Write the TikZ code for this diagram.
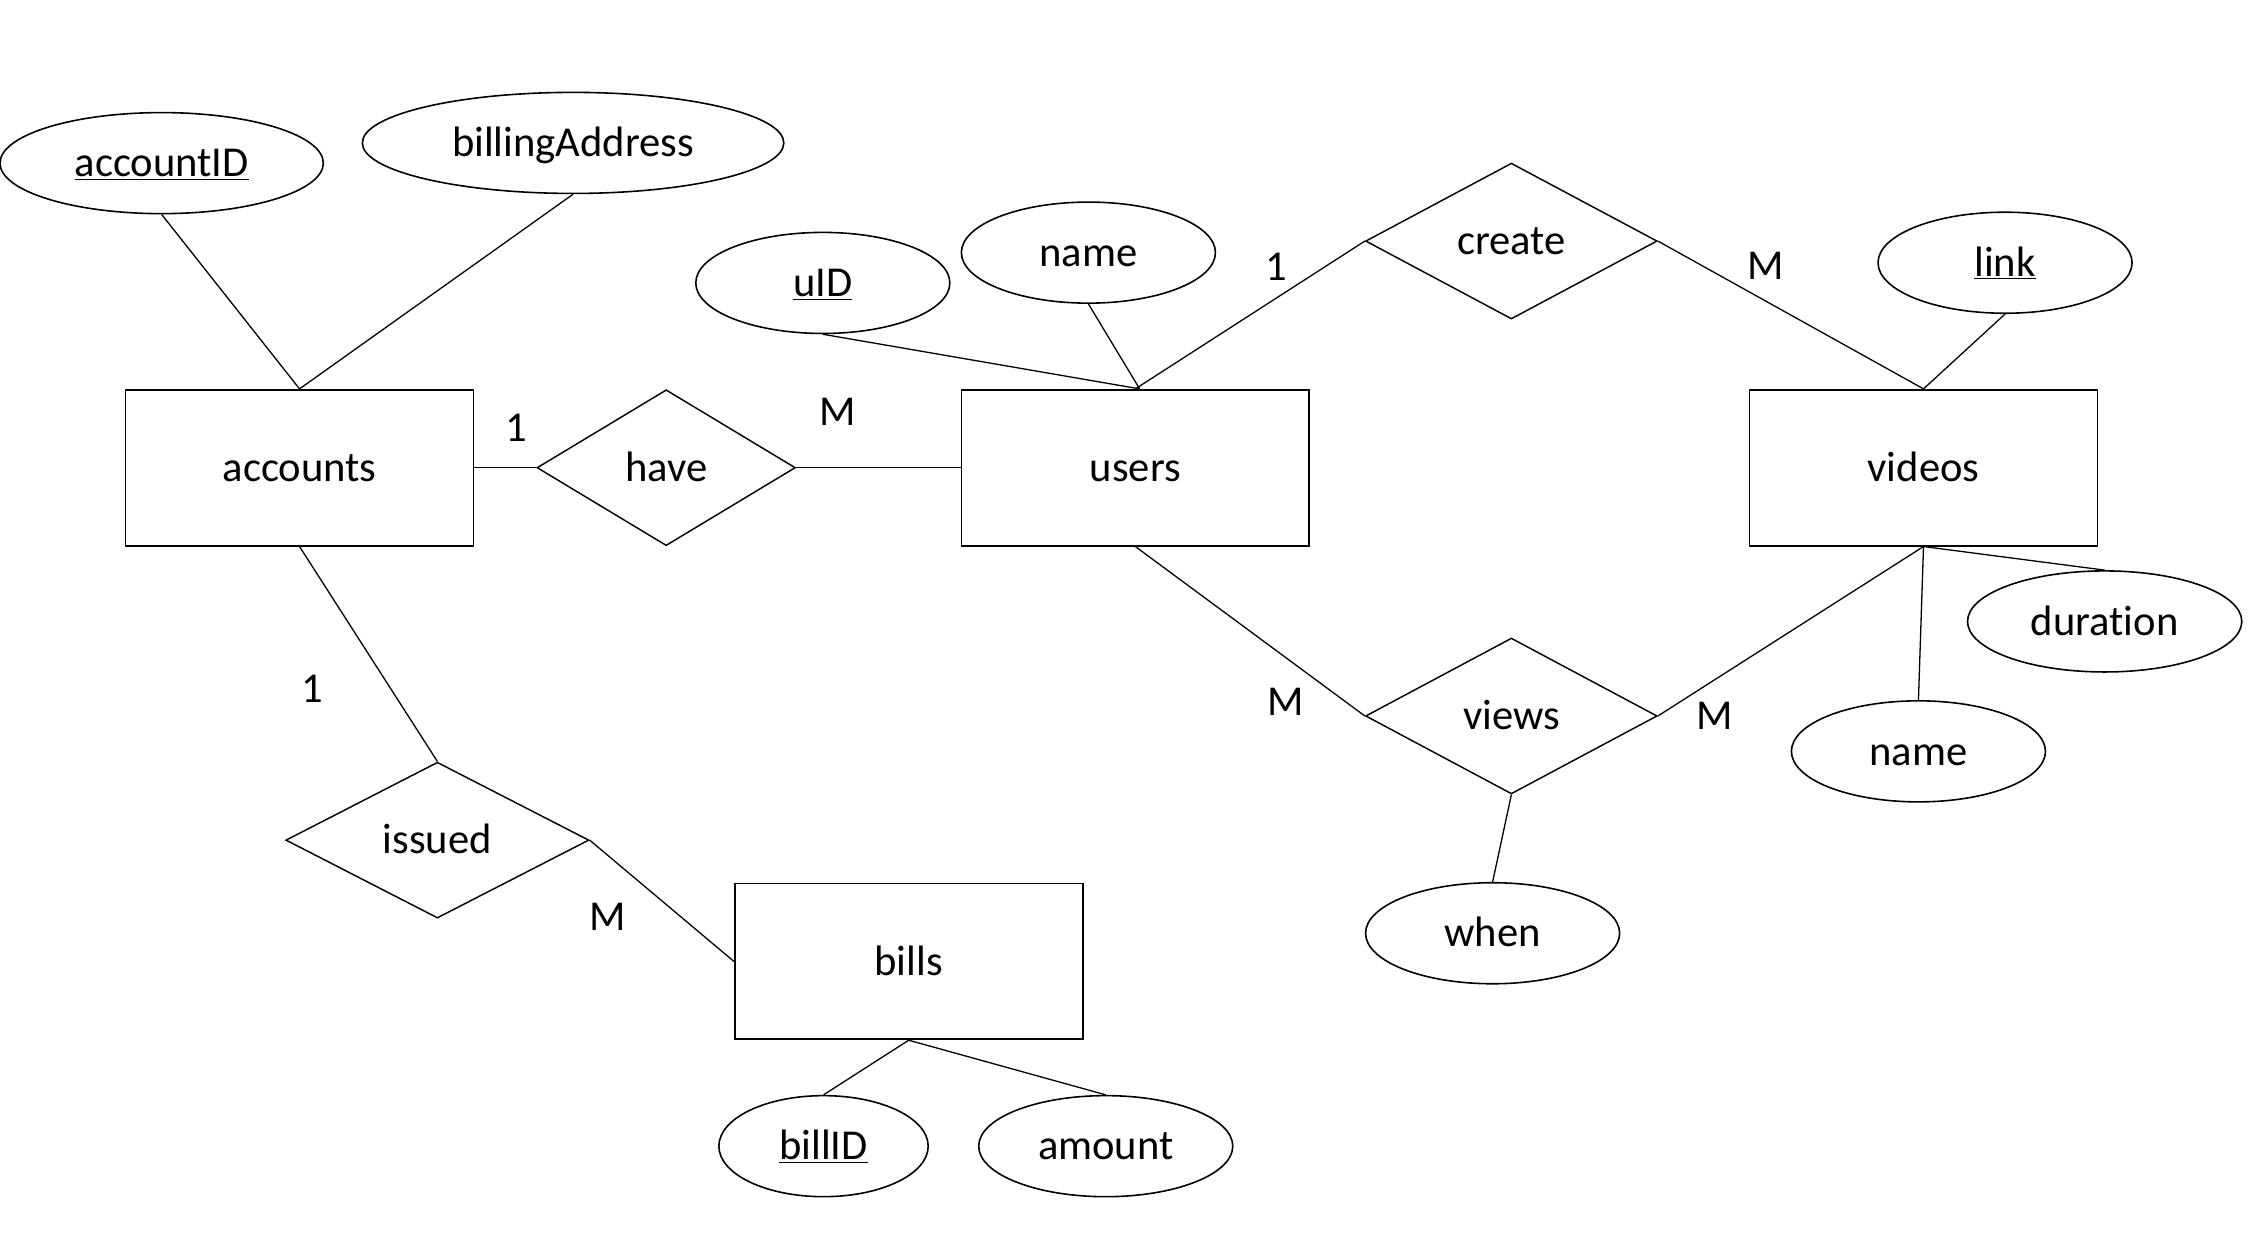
\documentclass[tikz,border=0pt]{standalone}
\usepackage{fontspec}
\setmainfont{Carlito}[Ligatures=NoCommon]
\usetikzlibrary{shapes.geometric}
\tikzset{
    label text/.style={text height=22pt, text depth=3pt},
    entity/.style={draw, line width=1.2pt, rectangle, minimum width=241pt, minimum height=108pt, inner sep=0pt, label text},
    relation/.style={draw, line width=1pt, diamond, minimum width=202pt, minimum height=108pt, inner sep=0pt, label text},
    attrib/.style={draw, line width=1.1pt, ellipse, minimum width=176pt, minimum height=70pt, inner sep=0pt, label text},
    link/.style={line width=0.9pt},
    card/.style={inner sep=0pt, label text}
}
\begin{document}
\begin{tikzpicture}[x=1pt, y=-1pt, font=\fontsize{29.5}{35}\selectfont]
    \useasboundingbox (0, 0) rectangle (1567, 870);
    % Draw entities
    \node [entity] (accounts) at (207.5, 324) {accounts};
    \node [entity] (users) at (786.5, 324) {users};
    \node [entity] (videos) at (1332.5, 324) {videos};
    \node [entity] (bills) at (629.5, 666) {bills};

    % Draw relations
    \node [relation, minimum width=179pt] (have) at (461.5, 324) {have};
    \node [relation] (create) at (1047, 167) {create};
    \node [relation] (views) at (1047, 496) {views};
    \node [relation, minimum width=210pt] (issued) at (303, 582) {issued};

    % Draw attributes
    \node [attrib, minimum width=224pt] (accountID) at (112, 113) {\underline{accountID}};
    \node [attrib, minimum width=292pt] (billingAddress) at (397, 99) {billingAddress};
    \node [attrib] (uID) at (570, 196) {\underline{uID}};
    \node [attrib] (uname) at (754, 175) {name};
    \node [attrib] (vlink) at (1389, 182) {\underline{link}};
    \node [attrib, minimum width=190pt] (duration) at (1458, 430.5) {duration};
    \node [attrib] (vname) at (1329, 520.5) {name};
    \node [attrib] (when) at (1034, 646.5) {when};
    \node [attrib, minimum width=145pt] (billID) at (570.5, 794) {\underline{billID}};
    \node [attrib] (amount) at (766, 794) {amount};

    % Connect attributes
    \draw [link] (accountID.south) -- (accounts.north);
    \draw [link] (billingAddress.south) -- (accounts.north);
    \draw [link] (uID.south) -- ([xshift=3pt]users.north);
    \draw [link] (uname.south) -- ([xshift=3pt]users.north);
    \draw [link] (vlink.south) -- (videos.north);
    \draw [link] (videos.south) -- (duration.north);
    \draw [link] (videos.south) -- (vname.north);
    \draw [link] (views.south) -- (when.north);
    \draw [link] (bills.south) -- (billID.north);
    \draw [link] (bills.south) -- (amount.north);

    % Connect relations
    \draw [link] (accounts.east) -- (have.west);
    \draw [link] (have.east) -- (users.west);
    \draw [link] (users.north) -- (create.west);
    \draw [link] (create.east) -- (videos.north);
    \draw [link] (users.south) -- (views.west);
    \draw [link] (views.east) -- (videos.south);
    \draw [link] (accounts.south) -- (issued.north);
    \draw [link] (issued.east) -- (bills.west);

    % Cardinalities
    \node [card] (c1) at (358, 296) {1};
    \node [card] (c2) at (580, 285) {M};
    \node [card] (c3) at (884, 185) {1};
    \node [card] (c4) at (1223, 184) {M};
    \node [card] (c5) at (216, 477) {1};
    \node [card] (c6) at (421, 635) {M};
    \node [card] (c7) at (891, 486) {M};
    \node [card] (c8) at (1188, 496) {M};
\end{tikzpicture}
\end{document}
